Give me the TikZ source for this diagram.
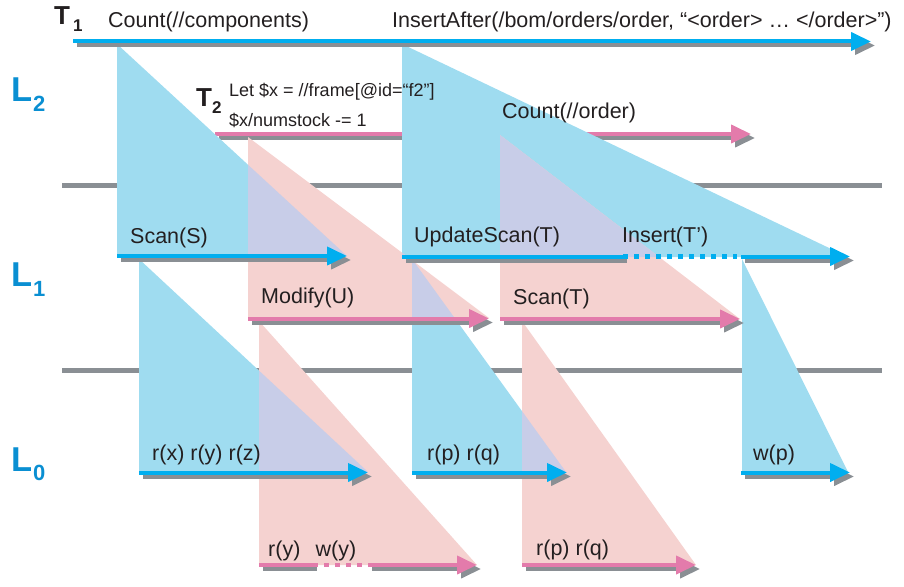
\documentclass[tikz,border=0pt]{standalone}
\usepackage{fontspec}
\setmainfont{Liberation Sans}
\usetikzlibrary{arrows.meta}
\definecolor{bfill}{RGB}{159,220,240}
\definecolor{pfill}{RGB}{245,210,208}
\definecolor{lfill}{RGB}{200,205,232}
\definecolor{barrow}{RGB}{0,174,239}
\definecolor{parrow}{RGB}{227,123,171}
\definecolor{sgray}{RGB}{138,143,148}
\definecolor{lblue}{RGB}{10,143,210}
\definecolor{txt}{RGB}{35,31,32}
\tikzset{
  arrline/.style={line width=4pt,-{Triangle[length=20pt,width=18pt]}},
  segline/.style={line width=4pt},
  dotline/.style={line width=4.8pt,dash pattern=on 5pt off 6pt},
  levelline/.style={line width=4.4pt,sgray},
  lab/.style={anchor=base west,inner sep=0pt,text=txt,font=\fontsize{21.5}{24}\selectfont},
  smalllab/.style={anchor=base west,inner sep=0pt,text=txt,font=\fontsize{18}{20}\selectfont},
  tname/.style={anchor=base west,inner sep=0pt,text=txt,font=\fontsize{26}{28}\selectfont\bfseries},
  tsub/.style={anchor=base west,inner sep=0pt,text=txt,font=\fontsize{17}{19}\selectfont\bfseries},
  lname/.style={anchor=base west,inner sep=0pt,text=lblue,font=\fontsize{34.5}{36}\selectfont\bfseries},
  lsub/.style={anchor=base west,inner sep=0pt,text=lblue,font=\fontsize{22}{24}\selectfont\bfseries},
}
\newcommand{\harrow}[3]{%
  \draw[arrline,sgray] ([shift={(4pt,-4pt)}]#2) -- ([shift={(4pt,-4pt)}]#3);
  \draw[arrline,#1] (#2) -- (#3);}
\newcommand{\hseg}[3]{%
  \draw[segline,sgray] ([shift={(4pt,-4pt)}]#2) -- ([shift={(4pt,-4pt)}]#3);
  \draw[segline,#1] (#2) -- (#3);}
\newcommand{\hdots}[3]{\draw[dotline,#1] (#2) -- (#3);}
\def\trBlA{(117,44) -- (117,256) -- (347,256) -- cycle}
\def\trBlB{(402,44) -- (402,257) -- (848,257) -- cycle}
\def\trBlC{(139,259) -- (139,472) -- (368,472) -- cycle}
\def\trBlD{(412,259) -- (412,472) -- (566,472) -- cycle}
\def\trBlE{(742,259) -- (742,472) -- (848,472) -- cycle}
\def\trPkF{(248,137) -- (248,318) -- (489,318) -- cycle}
\def\trPkG{(500,135) -- (500,319) -- (740,319) -- cycle}
\def\trPkH{(259,321) -- (259,565) -- (477,565) -- cycle}
\def\trPkI{(522,321) -- (522,565) -- (696,565) -- cycle}
\begin{document}
\begin{tikzpicture}[x=1pt,y=-1pt]
\useasboundingbox (0,0) rectangle (904,586);
% coordinates
\coordinate (t1a) at (73,41.5);   \coordinate (t1b) at (871,41.5);
\coordinate (t2a) at (215,134);   \coordinate (t2b) at (751,134);
\coordinate (ssa) at (117,256);   \coordinate (ssb) at (347,256);
\coordinate (usa) at (402,256.5); \coordinate (usb) at (623,256.5);
\coordinate (usc) at (737,256.5); \coordinate (ina) at (741,256.5);
\coordinate (inb) at (850,256.5);
\coordinate (mua) at (248,318.5); \coordinate (mub) at (489,318.5);
\coordinate (sta) at (500,319);   \coordinate (stb) at (740,319);
\coordinate (r1a) at (139,472.5); \coordinate (r1b) at (368,472.5);
\coordinate (r2a) at (412,472.5); \coordinate (r2b) at (567,472.5);
\coordinate (wpa) at (741,472.5); \coordinate (wpb) at (850,472.5);
\coordinate (r3a) at (259,565);   \coordinate (r3b) at (313,565);
\coordinate (r3c) at (365,565);   \coordinate (r3d) at (368,565);
\coordinate (r3e) at (477,565);
\coordinate (r4a) at (522,565);   \coordinate (r4b) at (696,565);
\coordinate (g1a) at (62,185.5);  \coordinate (g1b) at (882,185.5);
\coordinate (g2a) at (62,370.5);  \coordinate (g2b) at (882,370.5);
% level separators
\draw[levelline] (g1a) -- (g1b);
\draw[levelline] (g2a) -- (g2b);
% T2 arrow (under triangles)
\harrow{parrow}{t2a}{t2b}
% triangles
\fill[bfill] \trBlA; \fill[bfill] \trBlB; \fill[bfill] \trBlC;
\fill[bfill] \trBlD; \fill[bfill] \trBlE;
\fill[pfill] \trPkF; \fill[pfill] \trPkG; \fill[pfill] \trPkH; \fill[pfill] \trPkI;
\begin{scope}\clip \trBlA; \fill[lfill] \trPkF; \end{scope}
\begin{scope}\clip \trBlB; \fill[lfill] \trPkF; \end{scope}
\begin{scope}\clip \trBlB; \fill[lfill] \trPkG; \end{scope}
\begin{scope}\clip \trBlD; \fill[lfill] \trPkF; \end{scope}
\begin{scope}\clip \trBlC; \fill[lfill] \trPkH; \end{scope}
\begin{scope}\clip \trBlD; \fill[lfill] \trPkI; \end{scope}
% arrows
\harrow{barrow}{t1a}{t1b}
\harrow{barrow}{ssa}{ssb}
\hseg{barrow}{usa}{usb}
\hdots{barrow}{usb}{usc}
\harrow{barrow}{ina}{inb}
\harrow{parrow}{mua}{mub}
\harrow{parrow}{sta}{stb}
\harrow{barrow}{r1a}{r1b}
\harrow{barrow}{r2a}{r2b}
\harrow{barrow}{wpa}{wpb}
\hseg{parrow}{r3a}{r3b}
\hdots{parrow}{r3b}{r3c}
\harrow{parrow}{r3d}{r3e}
\harrow{parrow}{r4a}{r4b}
% level names
\node[lname] (l2) at (11,101.7) {L};
\node[lsub]  (l2s) at (33,111) {2};
\node[lname] (l1) at (11,286.7) {L};
\node[lsub]  (l1s) at (33,296) {1};
\node[lname] (l0) at (11,471.7) {L};
\node[lsub]  (l0s) at (33,480.7) {0};
% transaction names
\node[tname] (tn1) at (54,25) {T};
\node[tsub]  (tn1s) at (73,32) {1};
\node[tname] (tn2) at (196,106) {T};
\node[tsub]  (tn2s) at (212,113) {2};
% labels
\node[lab] (c1) at (108,27.3) {Count(//components)};
\node[lab] (c2) at (392,27.3) {InsertAfter(/bom/orders/order, “<order> … </order>”)};
\node[smalllab] (x1) at (229,96.7) {Let \$x = //frame[@id=“f2”]};
\node[smalllab] (x2) at (229,126.7) {\$x/numstock -= 1};
\node[lab] (c3) at (502,118.3) {Count(//order)};
\node[lab] (s1) at (130,243.3) {Scan(S)};
\node[lab] (s2) at (414,242.7) {UpdateScan(T)};
\node[lab] (s3) at (622,242.7) {Insert(T’)};
\node[lab] (s4) at (261,303) {Modify(U)};
\node[lab] (s5) at (513,304) {Scan(T)};
\node[lab] (o1) at (152,460) {r(x) r(y) r(z)};
\node[lab] (o2) at (427,460) {r(p) r(q)};
\node[lab] (o3) at (753,460) {w(p)};
\node[lab] (o4) at (268,556.7) {r(y)};
\node[lab] (o5) at (315.5,556.7) {w(y)};
\node[lab] (o6) at (536,555) {r(p) r(q)};
\end{tikzpicture}
\end{document}
